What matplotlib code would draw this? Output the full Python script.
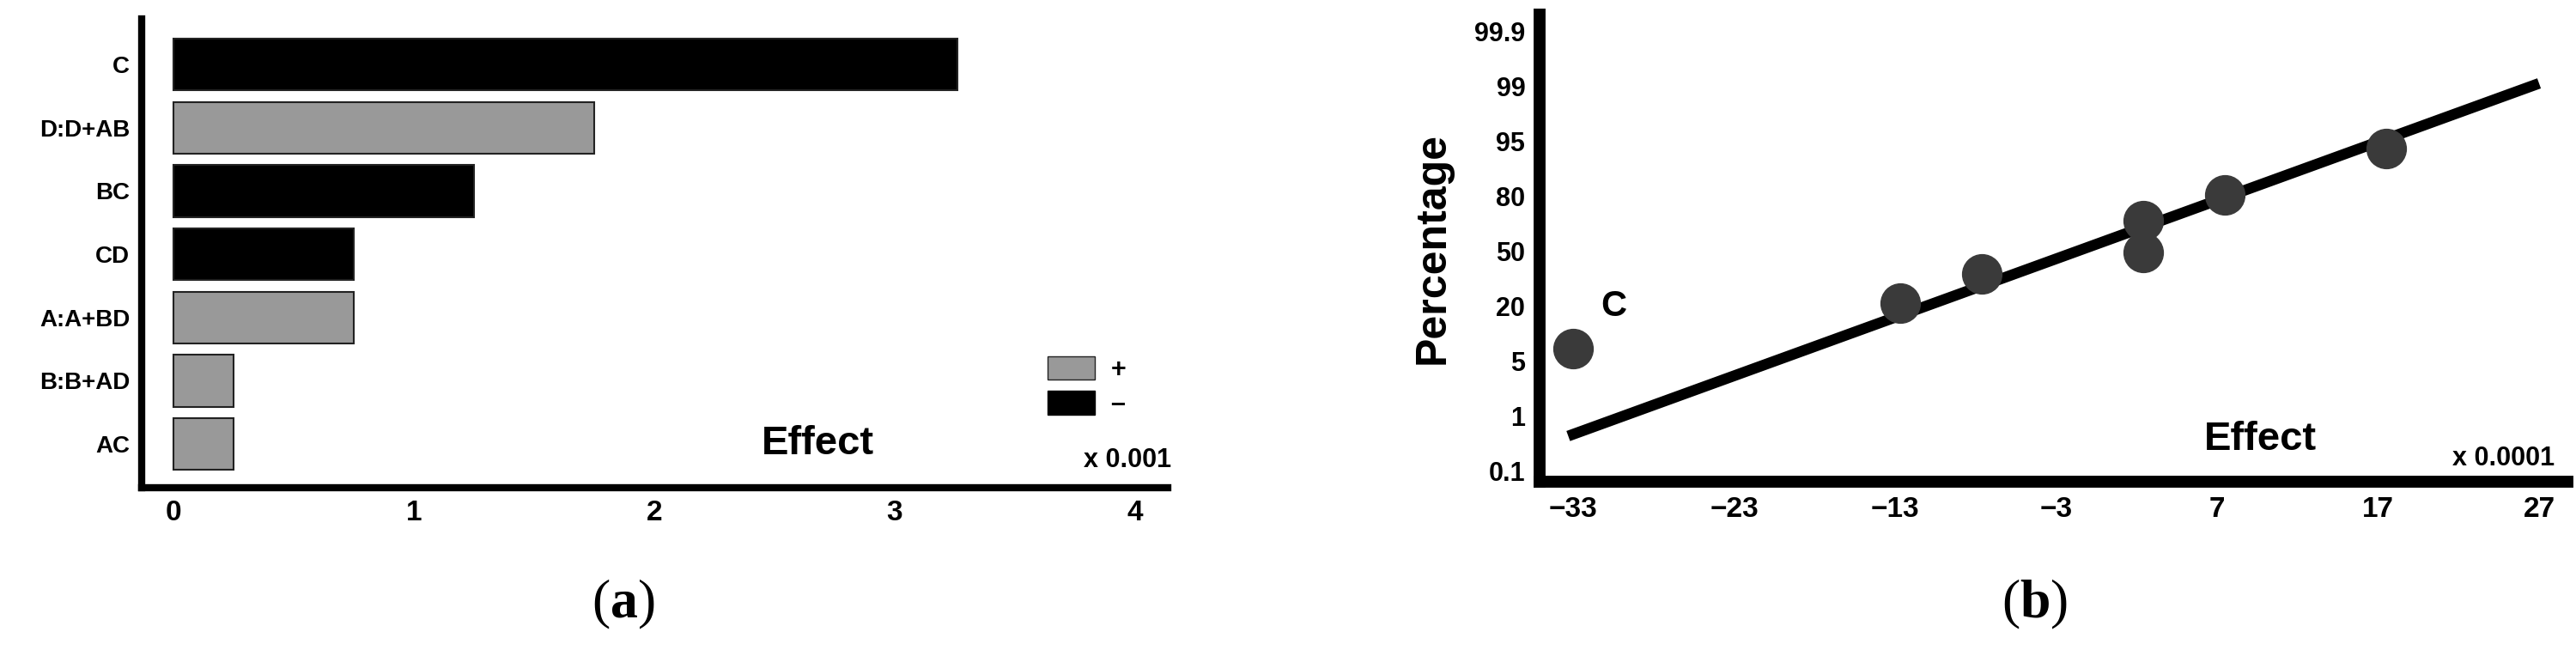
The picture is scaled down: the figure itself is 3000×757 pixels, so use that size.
import matplotlib
matplotlib.use('Agg')
import matplotlib.pyplot as plt
from matplotlib.patches import Patch

# ---- data ----
terms = ['AC', 'B:B+AD', 'A:A+BD', 'CD', 'BC', 'D:D+AB', 'C']
effects = [0.25, 0.25, 0.75, 0.75, 1.25, 1.75, 3.26]
signs = ['+', '+', '+', '-', '-', '+', '-']
x_ticks_a = [0, 1, 2, 3, 4]

prob_labels = ['0.1', '1', '5', '20', '50', '80', '95', '99', '99.9']
pt_effect = [-33, -12.7, -7.6, 2.4, 2.4, 7.5, 17.5]
pt_prob_pos = [2.23, 3.05, 3.58, 4.55, 3.98, 5.02, 5.87]
line_effect = [-33.3, 27]
line_prob_pos = [0.64, 7.05]
x_ticks_b = [-33, -23, -13, -3, 7, 17, 27]

FONT = ['Liberation Sans Narrow', 'Liberation Sans', 'DejaVu Sans']
W, H = 3000, 757

plt.rcParams['mathtext.fontset'] = 'custom'
plt.rcParams['mathtext.bf'] = 'Liberation Serif:bold'
plt.rcParams['mathtext.rm'] = 'Liberation Serif'


def px_axes(fig, left, top, right, bottom):
    return fig.add_axes([left / W, 1 - bottom / H, (right - left) / W, (bottom - top) / H])


fig = plt.figure(figsize=(W / 100, H / 100), dpi=100)

# ---- panel (a) ----
ax1 = px_axes(fig, 165, 22, 1360, 568)
colors = ['#999999' if s == '+' else 'black' for s in signs]
ax1.barh(range(len(terms)), effects, height=0.82, color=colors,
         edgecolor='#222222', linewidth=1.5)
ax1.set_xlim(-0.132, 4.136)
ax1.set_ylim(-0.69, 6.72)
ax1.set_yticks(range(len(terms)))
ax1.set_yticklabels(terms, fontfamily=FONT, fontweight='bold', fontsize=20)
ax1.set_xticks(x_ticks_a)
ax1.set_xticklabels([str(t) for t in x_ticks_a], fontfamily=FONT, fontweight='bold', fontsize=24)
ax1.tick_params(length=0, pad=10)
for s in ['top', 'right']:
    ax1.spines[s].set_visible(False)
for s in ['left', 'bottom']:
    ax1.spines[s].set_linewidth(6)
ax1.text(2.68, 0.0, 'Effect', fontfamily=FONT, fontweight='bold', fontsize=34,
         ha='center', va='center')
ax1.text(3.97, -0.25, 'x 0.001', fontfamily=FONT, fontweight='bold', fontsize=22,
         ha='center', va='center')
handles = [Patch(facecolor='#999999', edgecolor='#222222', label='+'),
           Patch(facecolor='black', edgecolor='black', label='\u2013')]
ax1.legend(handles=handles, frameon=False, loc='center left',
           bbox_to_anchor=(0.86, 0.215), handlelength=1.8, handleheight=1.0,
           labelspacing=0.3, handletextpad=0.6,
           prop={'family': FONT, 'weight': 'bold', 'size': 22})
fig.text(726 / W, 1 - 704 / H, r'($\mathbf{a}$)', fontfamily='Liberation Serif', fontsize=46,
         ha='center', va='center')

# ---- panel (b) ----
ax2 = px_axes(fig, 1793, 17, 2990, 561)
ax2.plot(line_effect, line_prob_pos, color='black', linewidth=9, solid_capstyle='butt')
ax2.plot(pt_effect, pt_prob_pos, 'o', color='#3a3a3a', markersize=33, zorder=3)
ax2.set_xlim(-35.08, 28.76)
ax2.set_ylim(-0.19, 8.3)
ax2.set_xticks(x_ticks_b)
ax2.set_xticklabels(['\u2212' + str(-t) if t < 0 else str(t) for t in x_ticks_b],
                    fontfamily=FONT, fontweight='bold', fontsize=24)
ax2.set_yticks(range(len(prob_labels)))
ax2.set_yticklabels(prob_labels, fontfamily=FONT, fontweight='bold', fontsize=22)
ax2.tick_params(length=0, pad=12)
for s in ['top', 'right']:
    ax2.spines[s].set_visible(False)
for s in ['left', 'bottom']:
    ax2.spines[s].set_linewidth(10)
ax2.set_ylabel('Percentage', fontfamily=['Liberation Sans', 'DejaVu Sans'],
               fontweight='bold', fontsize=36, labelpad=18)
ax2.text(-30.5, 3.0, 'C', fontfamily=FONT, fontweight='bold', fontsize=30,
         ha='center', va='center')
ax2.text(9.7, 0.58, 'Effect', fontfamily=FONT, fontweight='bold', fontsize=34,
         ha='center', va='center')
ax2.text(24.8, 0.23, 'x 0.0001', fontfamily=FONT, fontweight='bold', fontsize=22,
         ha='center', va='center')
fig.text(2370 / W, 1 - 704 / H, r'($\mathbf{b}$)', fontfamily='Liberation Serif', fontsize=46,
         ha='center', va='center')

fig.savefig('out.png', dpi=100)
